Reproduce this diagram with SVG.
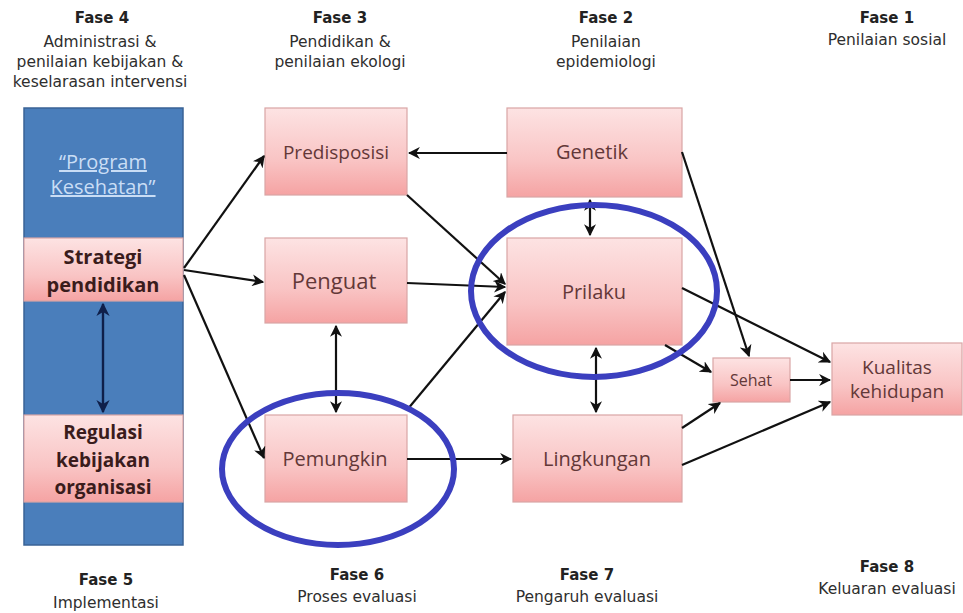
<svg xmlns="http://www.w3.org/2000/svg" width="963" height="613" viewBox="0 0 963 613">
<defs>
<linearGradient id="pk" x1="0" y1="0" x2="0" y2="1">
<stop offset="0" stop-color="#fde3e3"/>
<stop offset="0.6" stop-color="#f9c4c4"/>
<stop offset="1" stop-color="#f5a3a3"/>
</linearGradient>
<marker id="ah" viewBox="0 0 10 10" refX="9" refY="5" markerWidth="5.5" markerHeight="5.5" orient="auto-start-reverse">
<path d="M0,0 L10,5 L0,10 L3,5 Z" fill="#111"/>
</marker>
<marker id="ahn" viewBox="0 0 10 10" refX="9" refY="5" markerWidth="5.5" markerHeight="5.5" orient="auto-start-reverse">
<path d="M0,0 L10,5 L0,10 L3,5 Z" fill="#0f1f4a"/>
</marker>
</defs>
<style>
.box{fill:url(#pk);stroke:#d9a5a5;stroke-width:1.2}
.t{font-family:"Open Sans","Liberation Sans",sans-serif;fill:#633838;text-anchor:middle}
.tb{font-family:"Open Sans","Liberation Sans",sans-serif;fill:#3a1c1c;text-anchor:middle;font-weight:bold}
.ph{font-family:"DejaVu Sans","Liberation Sans",sans-serif;fill:#2e2e2e;text-anchor:middle;font-size:15.5px}
.phb{font-family:"DejaVu Sans","Liberation Sans",sans-serif;fill:#222;text-anchor:middle;font-size:15px;font-weight:bold}
.c{stroke:#111;stroke-width:2.2;fill:none;marker-end:url(#ah)}
.d{stroke:#111;stroke-width:2.2;fill:none;marker-end:url(#ah);marker-start:url(#ah)}
.ring{fill:none;stroke:#3b3fbf;stroke-width:6}
</style>
<rect width="963" height="613" fill="#fff"/>

<g id="labels">
<text class="phb" x="102" y="23">Fase 4</text>
<text class="ph" x="100" y="47">Administrasi &amp;</text>
<text class="ph" x="100" y="67">penilaian kebijakan &amp;</text>
<text class="ph" x="100" y="87">keselarasan intervensi</text>
<text class="phb" x="340" y="23">Fase 3</text>
<text class="ph" x="340" y="47">Pendidikan &amp;</text>
<text class="ph" x="340" y="67">penilaian ekologi</text>
<text class="phb" x="606" y="23">Fase 2</text>
<text class="ph" x="606" y="47">Penilaian</text>
<text class="ph" x="606" y="67">epidemiologi</text>
<text class="phb" x="887" y="23">Fase 1</text>
<text class="ph" x="887" y="45">Penilaian sosial</text>
<text class="phb" x="106" y="585">Fase 5</text>
<text class="ph" x="106" y="608">Implementasi</text>
<text class="phb" x="357" y="580">Fase 6</text>
<text class="ph" x="357" y="602">Proses evaluasi</text>
<text class="phb" x="587" y="580">Fase 7</text>
<text class="ph" x="587" y="602">Pengaruh evaluasi</text>
<text class="phb" x="887" y="572">Fase 8</text>
<text class="ph" x="887" y="594">Keluaran evaluasi</text>
</g>

<g id="program">
<rect x="24" y="108" width="159" height="437" fill="#4a7ebb" stroke="#3a6396" stroke-width="1.5"/>
<text x="103" y="169" font-family="'Open Sans','Liberation Sans',sans-serif" font-size="20" fill="#c9ddf5" text-anchor="middle" text-decoration="underline">“Program</text>
<text x="103" y="194" font-family="'Open Sans','Liberation Sans',sans-serif" font-size="20" fill="#c9ddf5" text-anchor="middle" text-decoration="underline">Kesehatan”</text>
</g>
<g id="strategi">
<rect class="box" x="24" y="238" width="159" height="63"/>
<text class="tb" x="103" y="264" font-size="20">Strategi</text>
<text class="tb" x="103" y="292" font-size="20">pendidikan</text>
</g>
<g id="regulasi">
<rect class="box" x="24" y="415" width="159" height="87"/>
<text class="tb" x="103" y="439" font-size="19">Regulasi</text>
<text class="tb" x="103" y="467" font-size="19">kebijakan</text>
<text class="tb" x="103" y="494" font-size="19">organisasi</text>
</g>
<g id="predisposisi">
<rect class="box" x="265" y="108" width="142" height="87"/>
<text class="t" x="336" y="159" font-size="19">Predisposisi</text>
</g>
<g id="penguat">
<rect class="box" x="265" y="238" width="142" height="85"/>
<text class="t" x="334" y="289" font-size="22">Penguat</text>
</g>
<g id="pemungkin">
<rect class="box" x="265" y="415" width="142" height="87"/>
<text class="t" x="335" y="466" font-size="20">Pemungkin</text>
</g>
<g id="genetik">
<rect class="box" x="507" y="108" width="175" height="89"/>
<text class="t" x="592" y="159" font-size="20">Genetik</text>
</g>
<g id="prilaku">
<rect class="box" x="507" y="238" width="175" height="107"/>
<text class="t" x="594" y="299" font-size="20">Prilaku</text>
</g>
<g id="lingkungan">
<rect class="box" x="513" y="415" width="169" height="87"/>
<text class="t" x="597" y="466" font-size="20">Lingkungan</text>
</g>
<g id="sehat">
<rect class="box" x="713" y="358" width="77" height="44"/>
<text class="t" x="751" y="386" font-size="16">Sehat</text>
</g>
<g id="kualitas">
<rect class="box" x="832" y="343" width="130" height="72"/>
<text class="t" x="897" y="374" font-size="19">Kualitas</text>
<text class="t" x="897" y="398" font-size="19">kehidupan</text>
</g>

<g id="connectors">
<line x1="103" y1="304" x2="103" y2="412" style="stroke:#0f1f4a;stroke-width:2.4;fill:none;marker-start:url(#ahn);marker-end:url(#ahn)"/>
<line class="c" x1="184" y1="268" x2="264" y2="156"/>
<line class="c" x1="184" y1="270" x2="263" y2="282"/>
<line class="c" x1="184" y1="275" x2="264" y2="458"/>
<line class="c" x1="507" y1="153" x2="409" y2="153"/>
<line class="c" x1="407" y1="195" x2="505" y2="284"/>
<line class="c" x1="407" y1="283" x2="505" y2="287"/>
<line class="c" x1="407" y1="410" x2="505" y2="292"/>
<line class="d" x1="336" y1="326" x2="336" y2="412"/>
<line class="d" x1="590" y1="200" x2="590" y2="235"/>
<line class="d" x1="596" y1="348" x2="596" y2="412"/>
<line class="c" x1="407" y1="459" x2="511" y2="459"/>
<line class="c" x1="682" y1="152" x2="749" y2="356"/>
<line class="c" x1="682" y1="288" x2="830" y2="362"/>
<line class="c" x1="665" y1="345" x2="711" y2="372"/>
<line class="c" x1="682" y1="428" x2="720" y2="403"/>
<line class="c" x1="790" y1="380" x2="830" y2="380"/>
<line class="c" x1="682" y1="465" x2="830" y2="402"/>
</g>

<g id="highlights">
<ellipse class="ring" cx="594" cy="291" rx="123" ry="86"/>
<ellipse class="ring" cx="338" cy="469" rx="116" ry="76"/>
</g>
</svg>
